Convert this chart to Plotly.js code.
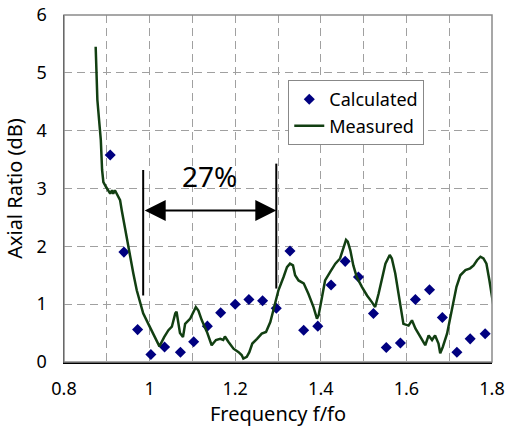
<!DOCTYPE html>
<html>
<head>
<meta charset="utf-8">
<script src="https://cdn.plot.ly/plotly-3.0.1.min.js"></script>
<style>
  html, body { margin: 0; padding: 0; background: #fff; }
  #chart { width: 508px; height: 437px; }
</style>
</head>
<body>
<div id="chart"></div>
<script>
// Calculated axial ratio (dB) versus normalised frequency f/fo
const calcFreq = [0.908, 0.940, 0.972, 1.003, 1.035, 1.072, 1.103, 1.135, 1.166, 1.200,
                  1.232, 1.264, 1.296, 1.328, 1.360, 1.393, 1.424, 1.457, 1.488, 1.523,
                  1.553, 1.586, 1.621, 1.654, 1.684, 1.718, 1.749, 1.784];
const calcAR   = [3.58, 1.90, 0.56, 0.13, 0.26, 0.17, 0.35, 0.62, 0.85, 1.00,
                  1.08, 1.06, 0.93, 1.92, 0.55, 0.62, 1.33, 1.74, 1.47, 0.84,
                  0.25, 0.33, 1.08, 1.25, 0.77, 0.17, 0.40, 0.49];

// Measured axial ratio (dB)
const measFreq = [0.874, 0.876, 0.878, 0.882, 0.886, 0.889, 0.892, 0.898, 0.904, 0.908,
                  0.912, 0.915, 0.919, 0.925, 0.931, 0.935, 0.939, 0.947, 0.954, 0.962,
                  0.970, 0.978, 0.985, 0.997, 1.009, 1.017, 1.023, 1.034, 1.044, 1.052,
                  1.060, 1.063, 1.071, 1.078, 1.083, 1.095, 1.102, 1.108, 1.114, 1.122,
                  1.134, 1.145, 1.155, 1.165, 1.172, 1.176, 1.184, 1.196, 1.208, 1.215,
                  1.219, 1.227, 1.233, 1.240, 1.251, 1.262, 1.272, 1.282, 1.289, 1.301,
                  1.313, 1.321, 1.328, 1.335, 1.340, 1.348, 1.360, 1.371, 1.383, 1.391,
                  1.395, 1.403, 1.410, 1.422, 1.434, 1.445, 1.453, 1.459, 1.463, 1.469,
                  1.476, 1.484, 1.496, 1.508, 1.519, 1.527, 1.535, 1.543, 1.551, 1.561,
                  1.566, 1.574, 1.582, 1.590, 1.593, 1.605, 1.613, 1.621, 1.628, 1.636,
                  1.644, 1.652, 1.660, 1.667, 1.675, 1.679, 1.685, 1.695, 1.706, 1.717,
                  1.726, 1.738, 1.749, 1.757, 1.765, 1.773, 1.780, 1.787, 1.794, 1.802,
                  1.810];
const measAR   = [5.45, 4.99, 4.53, 4.18, 3.84, 3.32, 3.11, 3.03, 2.97, 2.91,
                  2.97, 2.91, 2.97, 2.88, 2.80, 2.62, 2.45, 2.11, 1.82, 1.53,
                  1.24, 1.01, 0.84, 0.66, 0.49, 0.38, 0.27, 0.43, 0.55, 0.61,
                  0.84, 0.87, 0.50, 0.43, 0.66, 0.75, 0.87, 0.95, 0.89, 0.72,
                  0.52, 0.29, 0.38, 0.40, 0.38, 0.44, 0.35, 0.23, 0.17, 0.12,
                  0.06, 0.09, 0.17, 0.32, 0.40, 0.49, 0.52, 0.69, 0.89, 1.24,
                  1.47, 1.64, 1.70, 1.67, 1.50, 1.41, 1.36, 1.18, 0.95, 0.75,
                  0.81, 1.12, 1.41, 1.56, 1.70, 1.79, 1.96, 2.11, 2.08, 1.93,
                  1.67, 1.47, 1.30, 1.15, 1.04, 0.95, 1.18, 1.47, 1.70, 1.85,
                  1.79, 1.53, 1.18, 0.84, 0.66, 0.63, 0.72, 0.58, 0.49, 0.38,
                  0.29, 0.46, 0.38, 0.46, 0.32, 0.15, 0.26, 0.49, 0.89, 1.30,
                  1.50, 1.59, 1.62, 1.67, 1.76, 1.82, 1.79, 1.70, 1.41, 1.07,
                  0.66];

// 3 dB axial-ratio bandwidth edges and its label
const bandEdges = [0.985, 1.296];
const bandLabel = '27%';

const FONT = '"Noto Sans", "Liberation Sans", Arial, sans-serif';
const GRID = '#a0a0a0';

const traces = [
  {
    x: calcFreq, y: calcAR, name: 'Calculated',
    type: 'scatter', mode: 'markers',
    marker: { symbol: 'diamond', size: 8.5, color: '#000080' }
  },
  {
    x: measFreq, y: measAR, name: 'Measured',
    type: 'scatter', mode: 'lines',
    line: { color: '#123f12', width: 2.5 }
  }
];

const midBand = (bandEdges[0] + bandEdges[1]) / 2;
const arrowY = 2.62;

const layout = {
  width: 508, height: 437,
  margin: { l: 64, r: 16, t: 15, b: 75 },
  paper_bgcolor: '#fff', plot_bgcolor: '#fff',
  font: { family: FONT, size: 18, color: '#000' },
  showlegend: true,
  legend: {
    x: 0.524, y: 0.8125, xanchor: 'left', yanchor: 'top',
    bgcolor: '#fff', bordercolor: '#888', borderwidth: 1,
    font: { family: FONT, size: 18, color: '#000' },
    tracegroupgap: 0
  },
  xaxis: {
    range: [0.8, 1.8], dtick: 0.2, tick0: 0.8,
    showgrid: true, gridcolor: GRID, griddash: '8px,5px', gridwidth: 1,
    minor: { dtick: 0.1, showgrid: true, gridcolor: GRID, griddash: '8px,5px', gridwidth: 1 },
    showline: true, linecolor: '#000', linewidth: 1.5,
    zeroline: false, ticks: '', ticklabelstandoff: 10,
    tickfont: { family: FONT, size: 18 },
    title: { text: 'Frequency f/fo', font: { family: FONT, size: 20 }, standoff: 6 }
  },
  yaxis: {
    range: [0, 6], dtick: 1,
    showgrid: true, gridcolor: GRID, griddash: '8px,5px', gridwidth: 1,
    showline: true, linecolor: '#000', linewidth: 1.5,
    zeroline: false, ticks: '', ticklabelstandoff: 12,
    tickfont: { family: FONT, size: 18 },
    title: { text: 'Axial Ratio (dB)', font: { family: FONT, size: 20 }, standoff: 8 }
  },
  shapes: [
    // grey frame on top/right
    { type: 'rect', xref: 'paper', yref: 'paper', x0: 0, x1: 1, y0: 0, y1: 1,
      line: { color: '#8a8a8a', width: 1.5 }, layer: 'above' },
    // band edge markers
    { type: 'line', xref: 'x', yref: 'y', x0: bandEdges[0], x1: bandEdges[0], y0: 1.15, y1: 3.32,
      line: { color: '#000', width: 2 } },
    { type: 'line', xref: 'x', yref: 'y', x0: bandEdges[1], x1: bandEdges[1], y0: 1.27, y1: 3.43,
      line: { color: '#000', width: 2 } }
  ],
  annotations: [
    {
      x: bandEdges[1], y: arrowY, ax: bandEdges[0], ay: arrowY,
      xref: 'x', yref: 'y', axref: 'x', ayref: 'y',
      text: '', showarrow: true, arrowside: 'end+start',
      arrowhead: 2, startarrowhead: 2, arrowsize: 2.1, startarrowsize: 2.1,
      arrowwidth: 2, arrowcolor: '#000', standoff: 0, startstandoff: 0
    },
    {
      x: midBand - 0.0, y: 3.21, xref: 'x', yref: 'y',
      text: bandLabel, showarrow: false,
      font: { family: FONT, size: 28, color: '#000' }
    }
  ]
};

Plotly.newPlot('chart', traces, layout, { displayModeBar: false, staticPlot: true });
</script>
</body>
</html>
